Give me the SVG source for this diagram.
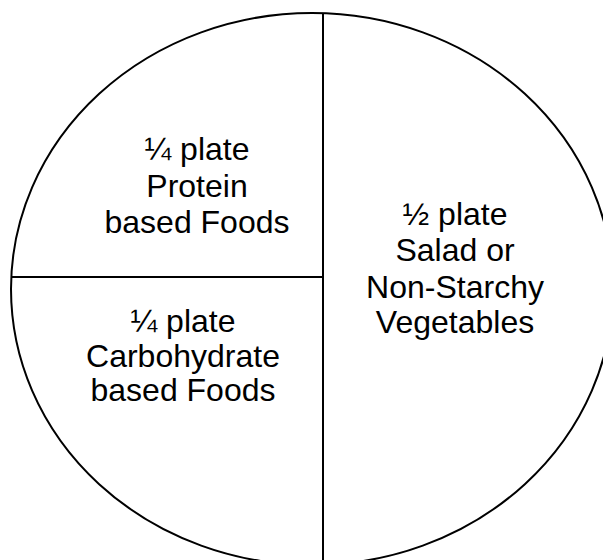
<svg xmlns="http://www.w3.org/2000/svg" width="603" height="560" viewBox="0 0 603 560">
<style>
.line{fill:none;stroke:#000;stroke-width:2}
.t{font-family:"Liberation Sans",Arial,sans-serif;font-size:32px;fill:#000;text-anchor:middle}
</style>
<rect width="603" height="560" fill="#fff"/>
<g id="plate">
<ellipse class="line" cx="312" cy="289" rx="301" ry="276"/>
</g>
<g id="connectors">
<line class="line" x1="323" y1="13" x2="323" y2="560"/>
<line class="line" x1="11" y1="277" x2="323" y2="277"/>
</g>
<g id="protein">
<text class="t" x="197" y="160">¼ plate</text>
<text class="t" x="197" y="197">Protein</text>
<text class="t" x="197" y="233">based Foods</text>
</g>
<g id="carbohydrate">
<text class="t" x="183" y="332">¼ plate</text>
<text class="t" x="183" y="367">Carbohydrate</text>
<text class="t" x="183" y="401">based Foods</text>
</g>
<g id="vegetables">
<text class="t" x="455" y="225">½ plate</text>
<text class="t" x="455" y="261">Salad or</text>
<text class="t" x="455" y="298">Non-Starchy</text>
<text class="t" x="455" y="333">Vegetables</text>
</g>
</svg>
